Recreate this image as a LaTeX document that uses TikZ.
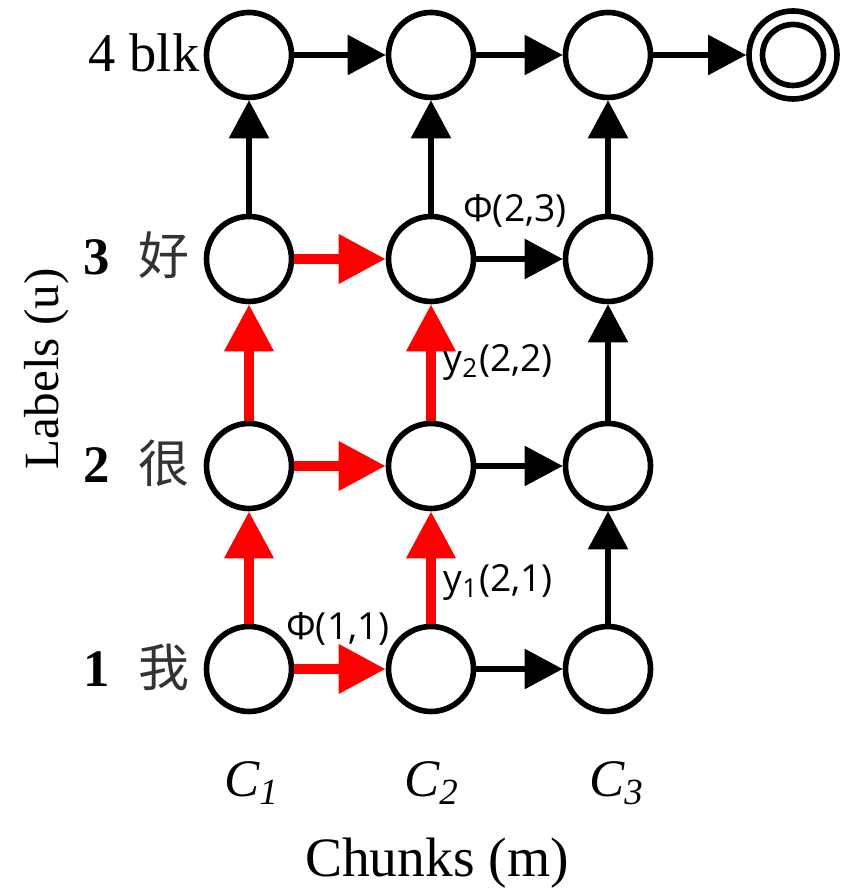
\documentclass[tikz,border=0pt]{standalone}
\usepackage{fontspec}
\setmainfont{Liberation Serif}
\newfontfamily\cjk{Noto Sans CJK SC}
\newfontfamily\uifont{Open Sans}
\usepackage{xcolor}
\usepackage{tikz}
\usetikzlibrary{arrows.meta, positioning, calc}
\definecolor{pathred}{HTML}{FF0000}

\begin{document}
\begin{tikzpicture}[
    st/.style={circle, draw, line width=1.6pt, minimum size=8.5mm, inner sep=0pt},
    blkarr/.style={-{Triangle[length=3.8mm, width=3.9mm]}, line width=1.6pt},
    redarr/.style={-{Triangle[length=4.7mm, width=4.7mm]}, line width=2.9pt, pathred},
    lbl/.style={inner sep=0pt, font=\fontsize{15}{18}\selectfont},
    cjklbl/.style={inner sep=0pt, font=\fontsize{14.5}{18}\cjk, color=black!80},
    score/.style={inner sep=0pt, font=\fontsize{10.6}{12}\uifont}]
  \useasboundingbox (0,0) rectangle (8.56,8.9);

  %% lattice of states: column = chunk, row = label
  \foreach \c/\x in {1/2.49, 2/4.31, 3/6.08} {
    \foreach \r/\y in {1/2.21, 2/4.24, 3/6.31, 4/8.35} {
      \node[st] (s\c\r) at (\x,\y) {};
    }
  }
  %% final state
  \node[st, minimum size=8.8mm] (fin) at (7.93,8.35) {};
  \draw[line width=1.6pt] (fin.center) circle (3.05mm);

  %% black transitions
  \draw[blkarr] (s14) -- (s24);
  \draw[blkarr] (s24) -- (s34);
  \draw[blkarr] (s34) -- (fin);
  \foreach \c in {1,2,3} {
    \draw[blkarr] (s\c3) -- (s\c4);
  }
  \foreach \r in {1,2,3} {
    \draw[blkarr] (s2\r) -- (s3\r);
  }
  \draw[blkarr] (s31) -- (s32);
  \draw[blkarr] (s32) -- (s33);

  %% red alignment paths
  \foreach \r in {1,2,3} {
    \draw[redarr] (s1\r) -- (s2\r);
  }
  \draw[redarr] (s11) -- (s12);
  \draw[redarr] (s12) -- (s13);
  \draw[redarr] (s21) -- (s22);
  \draw[redarr] (s22) -- (s23);

  %% scores
  \node[score, anchor=base] (phi23) at (5.15,6.68) {Φ(2,3)};
  \node[score, anchor=base] (phi11) at (3.38,2.50) {Φ(1,1)};
  \node[score, anchor=base west] (y22) at (4.43,5.18) {y\textsubscript{2}(2,2)};
  \node[score, anchor=base west] (y21) at (4.43,2.98) {y\textsubscript{1}(2,1)};

  %% row labels
  \node[lbl, anchor=base east, font=\fontsize{15.5}{18}\selectfont] (r4) at (2.00,8.18) {4 blk};
  \foreach \r/\y/\w in {3/6.15/好, 2/4.07/很, 1/2.03/我} {
    \node[lbl, anchor=base] (n\r) at (0.97,\y) {\textbf{\r}};
    \node[cjklbl, anchor=base] (w\r) at (1.64,\y) {\w};
  }

  %% column labels
  \foreach \c/\x in {1/2.52, 2/4.32, 3/6.17} {
    \node[lbl, anchor=base] (c\c) at (\x,0.93) {\textit{C\textsubscript{\c}}};
  }

  %% axis titles
  \node[lbl, rotate=90, anchor=west, font=\fontsize{14}{18}\selectfont] (ylab) at (0.47,4.20) {Labels (u)};
  \node[lbl, anchor=base, font=\fontsize{15.8}{18}\selectfont] (xlab) at (4.37,0.13) {Chunks (m)};

\end{tikzpicture}
\end{document}
